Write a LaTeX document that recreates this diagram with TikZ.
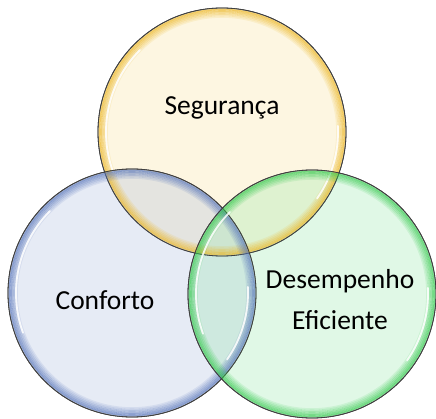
\documentclass[tikz,border=0pt]{standalone}
\usepackage{fontspec}
\setmainfont{Carlito}
\usetikzlibrary{positioning}
\definecolor{segfill}{RGB}{248,225,155}
\definecolor{segring}{RGB}{235,180,30}
\definecolor{conffill}{RGB}{172,188,222}
\definecolor{confring}{RGB}{85,115,185}
\definecolor{desfill}{RGB}{152,232,172}
\definecolor{desring}{RGB}{50,200,75}
\tikzset{
    venn/.style={circle, minimum size=248pt, inner sep=0pt, fill opacity=0.3, draw=black!75, line width=0.8pt},
    venntext/.style={font=\fontsize{27.5}{41}\selectfont, text=black, align=center}
}
\begin{document}
\begin{tikzpicture}[x=1pt, y=-1pt]
        \useasboundingbox (0,0) rectangle (436,419);
        % the three sets
        \foreach \n/\x/\y in {seg/222/132, conf/132/293, des/312/294} {
            \node[venn, fill=\n fill] (\n) at (\x,\y) {};
        }
        % glow along the rims
        \foreach \n in {seg, conf, des} {
            \foreach \d in {1,...,6} {
                \draw[\n ring, line width=1.6pt, opacity={0.72-\d*0.1}] (\n.center) circle ({124pt-\d*1.5pt});
            }
            \draw[white, line width=1.8pt, opacity=0.85, line cap=round] (\n.center) ++(135:116pt) arc (135:200:116pt);
            \draw[white, line width=1.8pt, opacity=0.85, line cap=round] (\n.center) ++(-35:116pt) arc (-35:3:116pt);
            \draw[black!75, line width=0.8pt] (\n.center) circle (124pt);
        }
        \node[venntext] (seglabel) at (222,108) {Segurança};
        \node[venntext] (conflabel) at (105,300) {Conforto};
        \node[venntext] (deslabel) at (340,300) {Desempenho\\Eficiente};
    \end{tikzpicture}
\end{document}
